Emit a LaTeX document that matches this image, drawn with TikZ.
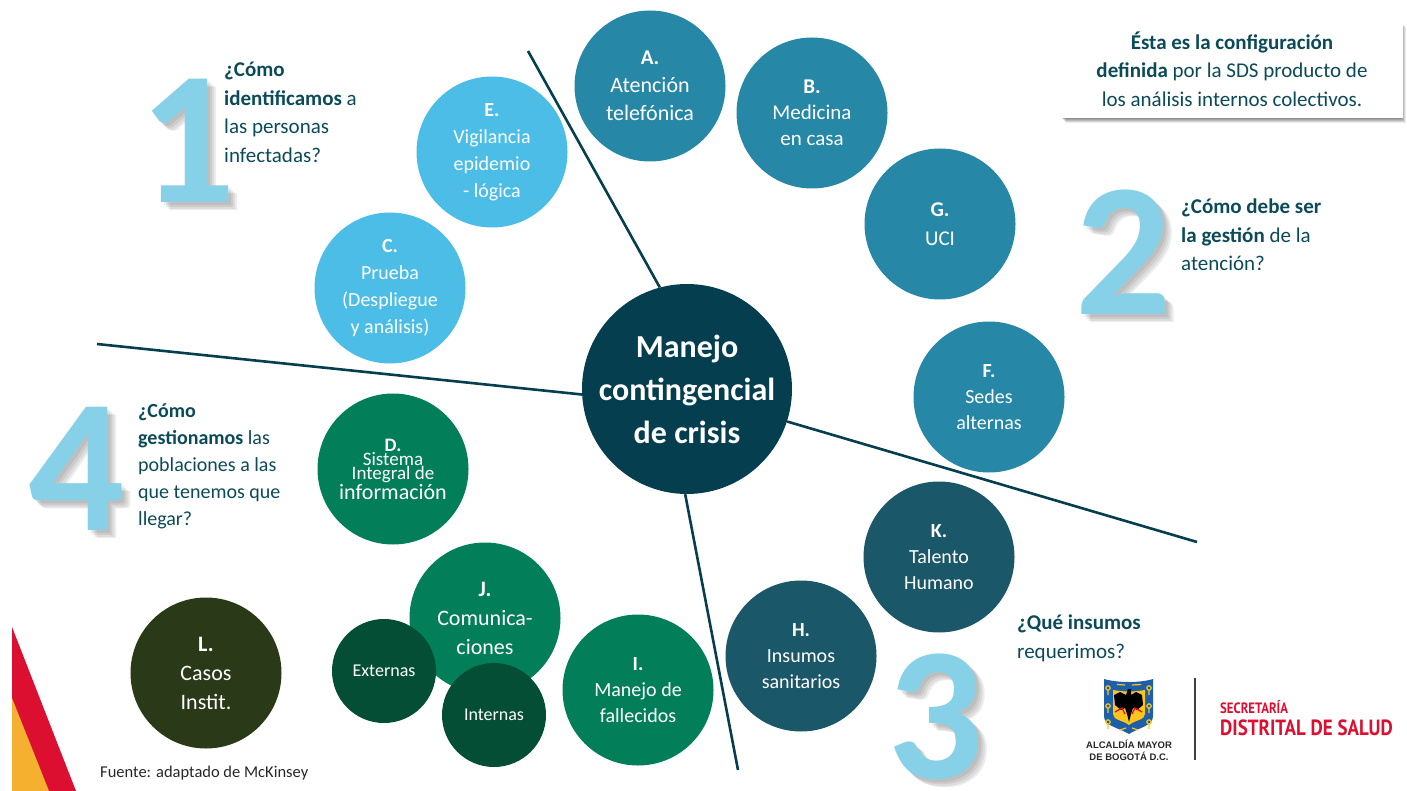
\documentclass[tikz,border=0pt]{standalone}
\usepackage{fontspec}
\setmainfont{Carlito}
\newfontfamily\arialf{Liberation Sans}
\newfontfamily\ptf{PT Sans}
\definecolor{tealc}{HTML}{2687A6}
\definecolor{lightc}{HTML}{4BBDE6}
\definecolor{greenc}{HTML}{027F58}
\definecolor{dgreenc}{HTML}{044E35}
\definecolor{olivec}{HTML}{2A3A19}
\definecolor{petrolc}{HTML}{1A5768}
\definecolor{hubc}{HTML}{053F4F}
\definecolor{inkc}{HTML}{0B4A58}
\definecolor{numc}{HTML}{87D1E8}
\definecolor{redc}{HTML}{DC0F30}
\definecolor{yelc}{HTML}{F4B02E}
\definecolor{shieldb}{HTML}{1F5FA8}
\definecolor{shieldy}{HTML}{FBC51B}
\newcommand{\fs}[2]{\fontsize{#1}{#2}\selectfont}
\tikzset{
  bub/.style={circle,fill=#1,text=white,inner sep=0pt,minimum size=151pt,align=center},
  small/.style={circle,fill=#1,text=white,inner sep=0pt,minimum size=104pt,align=center},
  spoke/.style={draw=hubc,line width=2.6pt},
  ask/.style={anchor=north west,inner sep=0pt,align=left,text=inkc,font=\fs{21}{28.5}},
  bignum/.style={inner sep=0pt,text=numc,font=\fs{190}{190}\bfseries},
  numshadow/.style={inner sep=0pt,text=black,opacity=.07,font=\fs{190}{190}\bfseries}
}
\begin{document}
\begin{tikzpicture}[x=1pt,y=-1pt]
\useasboundingbox (0,0) rectangle (1407,791);
% corner wedge
\fill[redc] (12,627) -- (76,791) -- (12,791) -- cycle;
\fill[yelc] (12,698) -- (49,791) -- (12,791) -- cycle;
% hub
\node[circle,fill=hubc,text=white,inner sep=0pt,minimum size=210pt,align=center,font=\fs{32}{43}\bfseries] (hub) at (687,389) {Manejo\\contingencial\\de crisis};
% spokes
\coordinate (s1) at (528,51);
\coordinate (s2) at (1197,542);
\coordinate (s3) at (738,770);
\coordinate (s4) at (97,344);
\draw[spoke] (s1) -- (hub.105.6);
\draw[spoke] (s2) -- (hub.-18.8);
\draw[spoke] (s3) -- (hub.269.5);
\draw[spoke] (s4) -- (hub.183.8);
% bubbles
\node[bub=tealc,font=\fs{22}{28}] (A) at (650,86) {\fs{21}{28}\textbf{A.}\\Atención\\telefónica};
\node[bub=tealc,font=\fs{21}{26}] (B) at (812,113) {\textbf{B.}\\Medicina\\en casa};
\node[bub=tealc,font=\fs{21}{29}] (G) at (940,224) {\textbf{G.}\\UCI};
\node[bub=tealc,font=\fs{20}{26}] (F) at (989,397) {\textbf{F.}\\Sedes\\alternas};
\node[bub=petrolc,font=\fs{20}{26}] (K) at (939,557) {\textbf{K.}\\Talento\\Humano};
\node[bub=petrolc,font=\fs{20}{26}] (H) at (801,656) {\textbf{H.}\\Insumos\\sanitarios};
\node[bub=greenc,font=\fs{20}{26}] (I) at (638,690) {\textbf{I.}\\Manejo de\\fallecidos};
\node[bub=greenc,font=\fs{22}{29}] (J) at (485,618) {\textbf{J.}\\Comunica-\\ciones};
\node[bub=greenc,align=center] (D) at (393,469) {\fs{19}{24}\textbf{D.}\\\fs{19}{24}Sistema\\\fs{19}{25}Integral de\\\fs{22}{25}información};
\node[bub=lightc,font=\fs{20}{27}] (C) at (390,288) {\textbf{C.}\\Prueba\\(Despliegue\\y análisis)};
\node[bub=lightc,font=\fs{20}{27}] (E) at (492,152) {\textbf{E.}\\Vigilancia\\epidemio\\- lógica};
\node[bub=olivec,font=\fs{22}{29}] (L) at (206,673) {\textbf{L.}\\Casos\\Instit.};
\node[small=dgreenc,font=\fs{18}{22}] (X) at (384,671) {Externas};
\node[small=dgreenc,font=\fs{18}{22}] (Y) at (494,715) {Internas};
% digits
\foreach \dx/\dy/\nm in {3/3/a,5/5/b,7/7/c,9/8/d}{
  \node[numshadow] (shone\nm) at (188+\dx,141+\dy) {1};
  \node[numshadow] (shtwo\nm) at (1124+\dx,252+\dy) {2};
  \node[numshadow] (shthree\nm) at (936+\dx,717+\dy) {3};
  \node[numshadow] (shfour\nm) at (77+\dx,469+\dy) {4};
}
\node[bignum] (n1) at (188,141) {1};
\node[bignum] (n2) at (1124,252) {2};
\node[bignum] (n3) at (936,717) {3};
\node[bignum] (n4) at (77,469) {4};
% questions
\node[ask] (q1) at (224,62) {\textbf{¿Cómo}\\\textbf{identificamos} a\\las personas\\infectadas?};
\node[ask] (q2) at (1181,199) {\textbf{¿Cómo debe ser}\\\textbf{la gestión} de la\\atención?};
\node[ask,font=\fs{21}{29}] (q3) at (1017,615) {\textbf{¿Qué insumos}\\requerimos?};
\node[ask,font=\fs{20}{27}] (q4) at (138,403) {\textbf{¿Cómo}\\\textbf{gestionamos} las\\poblaciones a las\\que tenemos que\\llegar?};
% callout
\foreach \o/\w in {1/.12,2/.12,3/.12,4/.1,5/.08}{
  \fill[black,opacity=\w] (1061+\o,22+\o) rectangle (1403+\o-2,118+\o);
}
\node[fill=white,minimum width=342pt,minimum height=98pt,inner sep=0pt,text=inkc,align=center,font=\fs{21}{28.5}] (box) at (1232,69) {\textbf{Ésta es la configuración}\\\textbf{definida} por la SDS producto de\\los análisis internos colectivos.};
% source
\node[anchor=west,inner sep=0pt,text=black!85,font=\fs{16.5}{20}] (src) at (100,773) {Fuente: adaptado de McKinsey};
% logo: shield
\fill[shieldb] (1104,679) .. controls (1118,683) and (1140,683) .. (1153,679) -- (1153,716) .. controls (1153,726) and (1140,727) .. (1129,734) .. controls (1117,727) and (1104,726) .. (1104,716) -- cycle;
\fill[shieldy] (1113,690) .. controls (1124,692) and (1134,692) .. (1145,690) -- (1145,714) .. controls (1145,720) and (1135,720) .. (1129,725) .. controls (1122,720) and (1113,720) .. (1113,714) -- cycle;
\foreach \yy in {688,706,722}{
  \draw[shieldy,line width=1.2pt] (1108,\yy) circle (2.2) (1108,\yy+2) -- (1108,\yy+7);
  \draw[shieldy,line width=1.2pt] (1149,\yy) circle (2.2) (1149,\yy+2) -- (1149,\yy+7);
}
\draw[shieldy,line width=1.2pt] (1117,684.5) -- (1125,685) (1132,685) -- (1141,684.5) (1120,730) -- (1126,728) (1132,728) -- (1138,730);
\fill[black] (1128,689) -- (1131,689) -- (1131,695) -- (1136,692) -- (1142,695) -- (1143,705) -- (1137,710) -- (1133,708) -- (1131,714) -- (1129,722) -- (1127,714) -- (1125,708) -- (1121,710) -- (1115,705) -- (1114,695) -- (1120,692) -- (1126,695) -- cycle;
\draw[redc,line width=1.3pt] (1115,712) -- (1122,708) -- (1125,714) (1142,712) -- (1135,708) -- (1132,714);
\node[inner sep=0pt,align=center,font=\arialf\bfseries\fs{9.5}{11.5},text=black!85] (alc) at (1129,750.5) {ALCALDÍA MAYOR\\DE BOGOTÁ D.C.};
\coordinate (ba) at (1195,678);
\coordinate (bb) at (1195,760);
\draw[black!75,line width=1.3pt] (ba) -- (bb);
\node[anchor=west,inner sep=0pt,text=redc,font=\ptf\bfseries\fs{15}{15}] (sec) at (1220,707) {\scalebox{.85}[1]{SECRETARÍA}};
\node[anchor=west,inner sep=0pt,text=redc,font=\ptf\bfseries\fs{22}{22}] (dds) at (1220,728) {\scalebox{.86}[1]{DISTRITAL DE SALUD}};
\end{tikzpicture}
\end{document}
